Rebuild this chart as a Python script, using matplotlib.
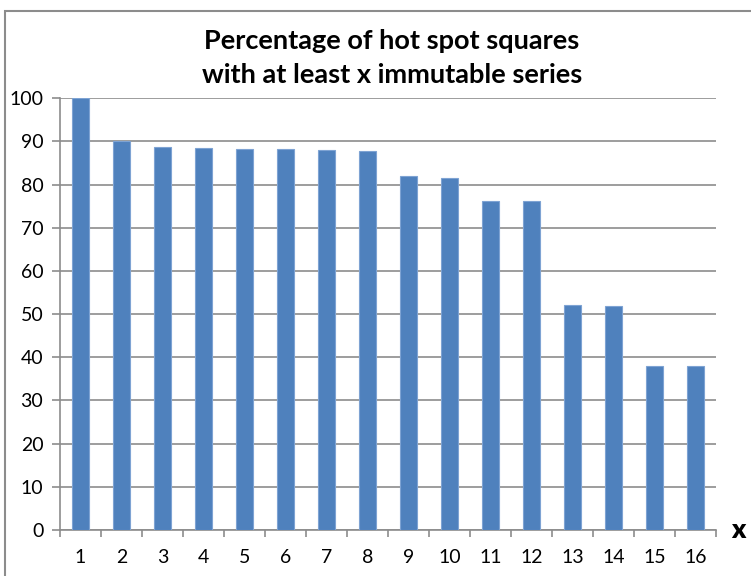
import matplotlib
matplotlib.use("Agg")
import matplotlib.pyplot as plt
from matplotlib.patches import Rectangle

# data
categories = [str(i) for i in range(1, 17)]
values = [100, 90.1, 88.7, 88.6, 88.2, 88.2, 88.0, 87.9,
          81.9, 81.6, 76.3, 76.1, 52.2, 51.9, 38.1, 38.1]
yticks = [0, 10, 20, 30, 40, 50, 60, 70, 80, 90, 100]

plt.rcParams['font.family'] = ['Lato', 'DejaVu Sans']

fig = plt.figure(figsize=(7.51, 5.76), dpi=100)
fig.patches.append(Rectangle((5 / 751, -0.1), 1.2, (576 - 11) / 576 + 0.1,
                             transform=fig.transFigure, fill=False,
                             edgecolor='#8c8c8c', linewidth=1.5))

ax = fig.add_axes([60 / 751, 1 - 530 / 576, (716 - 60) / 751, (530 - 98.3) / 576])

x = list(range(len(categories)))
ax.bar(x, values, width=0.4, color='#4f81bd', edgecolor='#7ea3d3', linewidth=0.8, zorder=3)

ax.set_xlim(-0.5, len(categories) - 0.5)
ax.set_ylim(0, 100)
ax.set_yticks(yticks)
ax.set_yticklabels([str(t) for t in yticks], fontsize=14)
ax.grid(axis='y', color='#8c8c8c', linewidth=1.2, zorder=0)

# category labels centred, tick marks between categories
ax.set_xticks(x)
ax.set_xticklabels(categories, fontsize=14)
ax.tick_params(axis='x', length=0, pad=14)
ax.set_xticks([i - 0.5 for i in range(len(categories) + 1)], minor=True)
ax.tick_params(axis='x', which='minor', length=5, color='#8c8c8c', width=1.2)
ax.tick_params(axis='y', length=6, color='#8c8c8c', width=1.2, pad=6)

for s in ['top', 'right']:
    ax.spines[s].set_visible(False)
for s in ['left', 'bottom']:
    ax.spines[s].set_color('#8c8c8c')
    ax.spines[s].set_linewidth(1.2)

fig.text(392 / 751, 1 - 58 / 576, 'Percentage of hot spot squares\nwith at least x immutable series',
         ha='center', va='center', fontsize=19.5, fontweight='bold', linespacing=1.5)
fig.text(738 / 751, 1 - 530 / 576, 'x', ha='center', va='center', fontsize=19, fontweight='heavy')

fig.savefig('out.png', dpi=100)
